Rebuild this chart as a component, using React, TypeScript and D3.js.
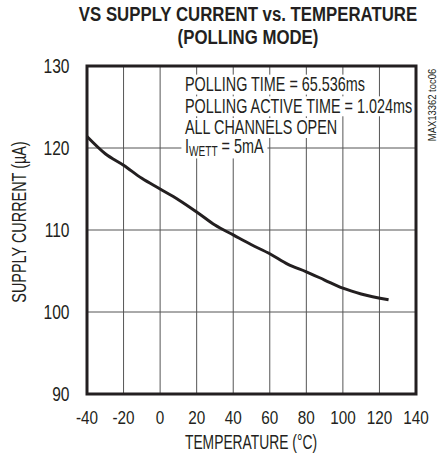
import { useEffect, useRef } from 'react';
import * as d3 from 'd3';

const temps = [-40, -30, -20, -10, 0, 10, 20, 30, 40, 50, 60, 70, 80, 90, 100, 110, 125];
const current = [121.4, 119.3, 117.9, 116.3, 115.0, 113.7, 112.2, 110.6, 109.4, 108.2, 107.1, 105.8, 104.9, 103.9, 102.9, 102.2, 101.5];
const xTicks = [-40, -20, 0, 20, 40, 60, 80, 100, 120, 140];
const yTicks = [90, 100, 110, 120, 130];
const notes = ['POLLING TIME = 65.536ms', 'POLLING ACTIVE TIME = 1.024ms', 'ALL CHANNELS OPEN'];

const W = 439;
const H = 458;
const margin = { top: 66, right: 23, bottom: 64, left: 87 };
const FONT = '"Liberation Sans", Arial, sans-serif';
const INK = '#231f20';

// text squeezed horizontally to mimic the narrow face of the original
function T(props: {
  x: number; y: number; size: number; sx?: number; rot?: number;
  anchor?: string; weight?: string; children: React.ReactNode;
}) {
  const { x, y, size, sx = 1, rot = 0, anchor = 'start', weight = 'normal', children } = props;
  return (
    <text
      transform={`translate(${x},${y}) rotate(${rot}) scale(${sx},1)`}
      fontSize={size}
      textAnchor={anchor}
      fontWeight={weight}
      fill={INK}
    >
      {children}
    </text>
  );
}

export default function App() {
  const notesRef = useRef<SVGGElement>(null);

  const x = d3.scaleLinear().domain([-40, 140]).range([margin.left, W - margin.right]);
  const y = d3.scaleLinear().domain([90, 130]).range([H - margin.bottom, margin.top]);

  const line = d3.line<number>()
    .x((_, i) => x(temps[i]))
    .y(d => y(d))
    .curve(d3.curveMonotoneX);

  useEffect(() => {
    // white boxes behind the note lines, sized from the text itself
    const g = d3.select(notesRef.current);
    g.selectAll('rect').remove();
    g.selectAll<SVGTextElement, unknown>('text').each(function () {
      const b = this.getBBox();
      const t = this.getAttribute('transform');
      g.insert('rect', 'text')
        .attr('transform', t)
        .attr('x', b.x - 5)
        .attr('y', b.y + 2)
        .attr('width', b.width + 10)
        .attr('height', b.height - 3)
        .attr('fill', '#fff');
    });
  }, []);

  return (
    <div style={{ position: 'absolute', left: 0, top: 0 }}>
      <svg width={W} height={H} style={{ display: 'block', background: '#fff' }} fontFamily={FONT}>
        <T x={248} y={21} size={21} sx={0.8} anchor="middle" weight="bold">VS SUPPLY CURRENT vs. TEMPERATURE</T>
        <T x={248} y={43.5} size={21} sx={0.8} anchor="middle" weight="bold">(POLLING MODE)</T>

        {/* grid */}
        {xTicks.slice(1, -1).map(t => (
          <line key={'gx' + t} x1={x(t)} x2={x(t)} y1={y(130)} y2={y(90)} stroke="#555" strokeWidth={1} />
        ))}
        {yTicks.slice(1, -1).map(t => (
          <line key={'gy' + t} x1={x(-40)} x2={x(140)} y1={y(t)} y2={y(t)} stroke="#555" strokeWidth={1} />
        ))}

        <g ref={notesRef}>
          {notes.map((n, i) => (
            <T key={n} x={185} y={91 + i * 21.7} size={20} sx={0.72}>{n}</T>
          ))}
          <T x={185} y={153} size={20} sx={0.72}>
            I<tspan fontSize={14} dy={3}>WETT</tspan><tspan dy={-3}> = 5mA</tspan>
          </T>
        </g>

        <path d={line(current) ?? ''} fill="none" stroke={INK} strokeWidth={3} strokeLinejoin="round" />

        {/* frame */}
        <rect x={x(-40)} y={y(130)} width={x(140) - x(-40)} height={y(90) - y(130)} fill="none" stroke={INK} strokeWidth={3} />

        {yTicks.map(t => (
          <T key={'yt' + t} x={69.5} y={y(t) + 7} size={19.5} sx={0.8} anchor="end">{t}</T>
        ))}
        {xTicks.map(t => (
          <T key={'xt' + t} x={x(t)} y={423.5} size={18} sx={0.85} anchor="middle">{t}</T>
        ))}

        <T x={251} y={449} size={19.5} sx={0.71} anchor="middle">TEMPERATURE (°C)</T>
        <T x={26} y={222} size={19.5} sx={0.74} rot={-90} anchor="middle">SUPPLY CURRENT (µA)</T>
        <T x={436} y={105} size={10.5} sx={0.9} rot={-90} anchor="middle">MAX13362 toc06</T>
      </svg>
    </div>
  );
}
